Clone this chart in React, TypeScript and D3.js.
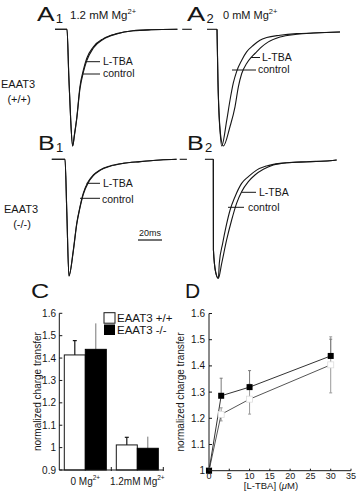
import React from 'react';
import * as d3 from 'd3';

// current traces: [ms from onset, fraction of peak inward current]
const a1Control: [number, number][] = [[-10, 0], [0, 0], [1.5, 0.4], [3.1, 0.78], [4.7, 1], [6.2, 0.9], [8.1, 0.76], [10.8, 0.49], [13.6, 0.35], [16.4, 0.25], [22, 0.15], [30.3, 0.08], [41.4, 0.037], [55, 0.012], [70, 0.004], [92, 0]];
const a1LTBA: [number, number][] = [[-10, 0], [0, 0], [1.5, 0.4], [3.1, 0.78], [4.7, 1], [6.2, 0.91], [8.1, 0.77], [10.8, 0.51], [13.6, 0.37], [16.4, 0.27], [22, 0.16], [30.3, 0.085], [41.4, 0.04], [55, 0.013], [70, 0.004], [92, 0]];
const a2Control: [number, number][] = [[0, 0], [0.8, 0.44], [2.5, 0.86], [3.9, 1], [8.1, 0.78], [10.8, 0.61], [13.6, 0.46], [16.4, 0.36], [20.6, 0.265], [24.7, 0.194], [30.3, 0.137], [35.8, 0.094], [41.4, 0.071], [52.5, 0.051], [66.4, 0.037], [80.3, 0.032], [102.5, 0.023]];
const a2LTBA: [number, number][] = [[0, 0], [0.8, 0.44], [2.5, 0.86], [5.3, 1], [10.8, 0.835], [15, 0.664], [17.8, 0.493], [20.6, 0.379], [24.7, 0.293], [28.9, 0.236], [33, 0.194], [37.2, 0.151], [42.8, 0.108], [52.5, 0.066], [66.4, 0.043], [80.3, 0.032], [102.5, 0.023]];
const b1Control: [number, number][] = [[-11, 0], [0, 0], [1.5, 0.45], [3.3, 1], [6.9, 0.78], [9.75, 0.55], [12.5, 0.405], [15.25, 0.29], [19.4, 0.19], [23.6, 0.134], [29.2, 0.091], [37.5, 0.057], [48.6, 0.034], [62.5, 0.02], [79.2, 0.006], [93, 0]];
const b1LTBA: [number, number][] = [[-11, 0], [0, 0], [1.5, 0.45], [3.3, 1], [6.9, 0.79], [9.75, 0.56], [12.5, 0.415], [15.25, 0.3], [19.4, 0.2], [23.6, 0.14], [29.2, 0.095], [37.5, 0.06], [48.6, 0.035], [62.5, 0.02], [79.2, 0.006], [93, 0]];
const b2Control: [number, number][] = [[0, 0], [0.1, 0.76], [2, 0.95], [4.2, 1], [5, 0.874], [7.8, 0.706], [10.6, 0.566], [14, 0.426], [18.1, 0.314], [23.6, 0.202], [29.2, 0.146], [36.1, 0.091], [44.4, 0.056], [55.6, 0.034], [69.5, 0.025], [97.2, 0.012], [102.8, 0.006]];
const b2LTBA: [number, number][] = [[0, 0], [0.1, 0.76], [2, 0.95], [4.2, 1], [7, 0.874], [11.1, 0.678], [15.3, 0.51], [19.4, 0.37], [23.6, 0.272], [29.2, 0.188], [34.7, 0.132], [41.7, 0.084], [50, 0.048], [61.1, 0.029], [77.8, 0.02], [97.2, 0.012], [102.8, 0.006]];
// short baseline pieces before onset (ms)
const a2Baseline: [number, number][] = [[-29, -21], [-8.3, 0]];
const b2Baseline: [number, number][] = [[-28, -22], [-7, 0]];
const scaleBarMs = 20;

// panel C
const cGroups = ['0 Mg', '1.2mM Mg'];
const cWT = [1.414, 1.012];
const cWTErr = [0.064, 0.034];
const cKO = [1.439, 0.997];
const cKOErr = [0.116, 0.052];
const cTicks = [0.9, 1, 1.1, 1.2, 1.3, 1.4, 1.5, 1.6];

// panel D
const dConc = [0, 3, 10, 30];
const dKO = [1.0, 1.286, 1.319, 1.438];
const dKOErr = [0, 0.067, 0.063, 0.064];
const dWT = [1.0, 1.215, 1.273, 1.404];
const dWTErr = [0, 0.025, 0.057, 0.107];
const dYTicks = [1, 1.1, 1.2, 1.3, 1.4, 1.5, 1.6];
const dXTicks = [0, 5, 10, 15, 20, 25, 30, 35];

const FONT = 'Liberation Sans, Arial, Helvetica, sans-serif';
const INK = '#161616';
const PX_PER_MS = 1.2;

type Pt = [number, number];

function Trace({ onsetX, baseY, peakY, traces, baseline }: { onsetX: number; baseY: number; peakY: number; traces: Pt[][]; baseline?: Pt[] }) {
  const x = d3.scaleLinear().domain([0, 100]).range([onsetX, onsetX + 100 * PX_PER_MS]);
  const y = d3.scaleLinear().domain([0, 1]).range([baseY, peakY]);
  const line = d3.line<Pt>().x(d => x(d[0])).y(d => y(d[1])).curve(d3.curveMonotoneX);
  return (
    <g fill="none" stroke={INK} strokeWidth={1.1}>
      {(baseline || []).map((b, i) => (
        <line key={'b' + i} x1={x(b[0])} x2={x(b[1])} y1={y(0)} y2={y(0)} />
      ))}
      {traces.map((t, i) => <path key={i} d={line(t) || ''} />)}
    </g>
  );
}

function Leader({ x1, x2, y, tx, ty, label }: { x1: number; x2: number; y: number; tx: number; ty: number; label: string }) {
  return (
    <g>
      <line x1={x1} x2={x2} y1={y} y2={y} stroke={INK} strokeWidth={1} />
      <text x={tx} y={ty} fontSize={10.5} fill={INK}>{label}</text>
    </g>
  );
}

function BigLabel({ x, y, letter, sub, sx }: { x: number; y: number; letter: string; sub?: string; sx: number }) {
  return (
    <g>
      <text transform={`translate(${x},${y}) scale(${sx},1)`} fontSize={21} fill={INK}>{letter}</text>
      {sub && <text x={x + 15 * sx} y={y + 2} fontSize={13} fill={INK}>{sub}</text>}
    </g>
  );
}

function PanelC() {
  const y = d3.scaleLinear().domain([0.9, 1.6]).range([470, 313.3]);
  const x = d3.scaleBand<string>().domain(cGroups).range([59.3, 163.3]);
  const sub = d3.scaleBand<string>().domain(['wt', 'ko']).range([5, 47]);
  const bw = sub.bandwidth();
  return (
    <g fontFamily={FONT} fill={INK}>
      {cGroups.map((g, i) => {
        const gx = x(g) || 0;
        const wx = gx + (sub('wt') || 0);
        const kx = gx + (sub('ko') || 0);
        return (
          <g key={g}>
            <line x1={wx + bw / 2} x2={wx + bw / 2} y1={y(cWT[i])} y2={y(cWT[i] + cWTErr[i])} stroke={INK} strokeWidth={1.2} />
            <line x1={wx + bw / 2 - 2} x2={wx + bw / 2 + 2} y1={y(cWT[i] + cWTErr[i])} y2={y(cWT[i] + cWTErr[i])} stroke={INK} strokeWidth={1.2} />
            <rect x={wx} y={y(cWT[i])} width={bw} height={y(0.9) - y(cWT[i])} fill="#fff" stroke={INK} strokeWidth={1} />
            <line x1={kx + bw / 2} x2={kx + bw / 2} y1={y(cKO[i])} y2={y(cKO[i] + cKOErr[i])} stroke="#777" strokeWidth={1} />
            <rect x={kx} y={y(cKO[i])} width={bw} height={y(0.9) - y(cKO[i])} fill="#000" stroke="#000" strokeWidth={1} />
            <text x={gx + x.bandwidth() / 2} y={485} fontSize={10} textAnchor="middle">
              {g}<tspan fontSize={6.5} dy={-5}>2+</tspan>
            </text>
          </g>
        );
      })}
      <line x1={59.3} x2={59.3} y1={y(0.9)} y2={y(1.6)} stroke={INK} strokeWidth={1} />
      <line x1={59.3} x2={163.3} y1={y(0.9)} y2={y(0.9)} stroke={INK} strokeWidth={1} />
      {[1, 2].map(k => (
        <line key={k} x1={59.3 + k * x.bandwidth()} x2={59.3 + k * x.bandwidth()} y1={y(0.9) - 3} y2={y(0.9) + 1} stroke={INK} strokeWidth={1} />
      ))}
      {cTicks.map(t => (
        <g key={t}>
          <line x1={59.3} x2={62.3} y1={y(t)} y2={y(t)} stroke={INK} strokeWidth={1} />
          <text x={56} y={y(t) + 3.5} fontSize={10} textAnchor="end">{d3.format('~g')(t)}</text>
        </g>
      ))}
      <text transform={`translate(40.5,${y(1.25)}) rotate(-90)`} fontSize={10} textAnchor="middle">normalized charge transfer</text>
      <rect x={104} y={312.7} width={11} height={10.5} fill="#fff" stroke={INK} strokeWidth={1} />
      <text x={117} y={321.5} fontSize={11.5}>EAAT3 +/+</text>
      <rect x={104} y={324.5} width={11} height={10.5} fill="#000" />
      <text x={117} y={333.5} fontSize={11.5}>EAAT3 -/-</text>
    </g>
  );
}

function PanelD() {
  const x = d3.scaleLinear().domain([0, 35]).range([209, 351]);
  const y = d3.scaleLinear().domain([1, 1.6]).range([470.7, 313.5]);
  const line = d3.line<number>().x((_, i) => x(dConc[i])).y(d => y(d));
  return (
    <g fontFamily={FONT} fill={INK}>
      {dConc.map((c, i) => (
        <g key={'we' + c} stroke="#9a9a9a" strokeWidth={1}>
          <line x1={x(c)} x2={x(c)} y1={y(dWT[i] - dWTErr[i])} y2={y(dWT[i] + dWTErr[i])} />
          <line x1={x(c) - 1.5} x2={x(c) + 1.5} y1={y(dWT[i] - dWTErr[i])} y2={y(dWT[i] - dWTErr[i])} />
          <line x1={x(c) - 1.5} x2={x(c) + 1.5} y1={y(dWT[i] + dWTErr[i])} y2={y(dWT[i] + dWTErr[i])} />
        </g>
      ))}
      {dConc.map((c, i) => (
        <g key={'ke' + c} stroke="#7a7a7a" strokeWidth={1}>
          <line x1={x(c)} x2={x(c)} y1={y(dKO[i])} y2={y(dKO[i] + dKOErr[i])} />
          <line x1={x(c) - 1.5} x2={x(c) + 1.5} y1={y(dKO[i] + dKOErr[i])} y2={y(dKO[i] + dKOErr[i])} />
        </g>
      ))}
      <path d={line(dWT) || ''} fill="none" stroke="#555" strokeWidth={1} />
      <path d={line(dKO) || ''} fill="none" stroke="#333" strokeWidth={1} />
      {dConc.map((c, i) => (
        <rect key={'ws' + c} x={x(c) - 3} y={y(dWT[i]) - 3} width={6} height={6} fill="#fff" stroke="#ddd" strokeWidth={0.8} />
      ))}
      {dConc.map((c, i) => (
        <rect key={'ks' + c} x={x(c) - 3} y={y(dKO[i]) - 3} width={6} height={6} fill="#000" />
      ))}
      <line x1={x(0)} x2={x(0)} y1={y(1)} y2={y(1.6)} stroke={INK} strokeWidth={1} />
      <line x1={x(0)} x2={x(35)} y1={y(1)} y2={y(1)} stroke={INK} strokeWidth={1} />
      {dYTicks.map(t => (
        <g key={t}>
          <line x1={x(0)} x2={x(0) + 3} y1={y(t)} y2={y(t)} stroke={INK} strokeWidth={1} />
          <text x={205} y={y(t) + 3.5} fontSize={10} textAnchor="end">{d3.format('~g')(t)}</text>
        </g>
      ))}
      {dXTicks.map(t => (
        <g key={t}>
          <line x1={x(t)} x2={x(t)} y1={y(1)} y2={y(1) - 2} stroke={INK} strokeWidth={1} />
          <text x={x(t)} y={478.5} fontSize={9} textAnchor="middle">{t}</text>
        </g>
      ))}
      <text x={271} y={489} fontSize={9.5} textAnchor="middle">
        [L-TBA] (<tspan fontStyle="italic">μ</tspan>M)
      </text>
      <text transform={`translate(184,392) rotate(-90)`} fontSize={10} textAnchor="middle">normalized charge transfer</text>
    </g>
  );
}

export default function App() {
  return (
    <svg width={361} height={500} viewBox="0 0 361 500" style={{ position: 'absolute', left: 0, top: 0, background: '#fff' }} fontFamily={FONT}>
      <rect width={361} height={500} fill="#fff" />
      <BigLabel x={37} y={21} letter="A" sub="1" sx={1.25} />
      <text x={70} y={19} fontSize={11.5} fill={INK}>1.2 mM Mg<tspan fontSize={7.5} dy={-5}>2+</tspan></text>
      <BigLabel x={187} y={21} letter="A" sub="2" sx={1.3} />
      <text x={223} y={19} fontSize={11} fill={INK}>0 mM Mg<tspan fontSize={7.5} dy={-5}>2+</tspan></text>
      <BigLabel x={38} y={150} letter="B" sub="1" sx={1.2} />
      <BigLabel x={187} y={150} letter="B" sub="2" sx={1.2} />
      <BigLabel x={31} y={298} letter="C" sx={1.2} />
      <BigLabel x={185} y={298} letter="D" sx={1.0} />

      <text x={18} y={88} fontSize={11} textAnchor="middle" fill={INK}>EAAT3</text>
      <text x={19} y={103} fontSize={11} textAnchor="middle" fill={INK}>(+/+)</text>
      <text x={21} y={213} fontSize={11} textAnchor="middle" fill={INK}>EAAT3</text>
      <text x={22} y={228} fontSize={11} textAnchor="middle" fill={INK}>(-/-)</text>

      <Trace onsetX={67} baseY={29.3} peakY={146} traces={[a1Control, a1LTBA]} />
      <Leader x1={86} x2={100} y={61.7} tx={103} ty={64.5} label="L-TBA" />
      <Leader x1={83} x2={100} y={74} tx={103} ty={77} label="control" />

      <Trace onsetX={217} baseY={29.3} peakY={146} traces={[a2Control, a2LTBA]} baseline={a2Baseline} />
      <Leader x1={251} x2={260} y={57.5} tx={262} ty={60.5} label="L-TBA" />
      <Leader x1={232} x2={256} y={70} tx={258} ty={73} label="control" />

      <Trace onsetX={65} baseY={159.3} peakY={276} traces={[b1Control, b1LTBA]} />
      <Leader x1={86.5} x2={100} y={183.3} tx={103} ty={187} label="L-TBA" />
      <Leader x1={80} x2={100} y={198.3} tx={102} ty={202.5} label="control" />

      <Trace onsetX={213.3} baseY={159.3} peakY={278.3} traces={[b2Control, b2LTBA]} baseline={b2Baseline} />
      <Leader x1={241.5} x2={256} y={192.3} tx={259} ty={196} label="L-TBA" />
      <Leader x1={228} x2={244} y={207.3} tx={248} ty={211} label="control" />

      <text x={150} y={236} fontSize={9} textAnchor="middle" fill={INK}>20ms</text>
      <line x1={138} x2={138 + scaleBarMs * PX_PER_MS} y1={240} y2={240} stroke={INK} strokeWidth={1.2} />

      <PanelC />
      <PanelD />
    </svg>
  );
}
